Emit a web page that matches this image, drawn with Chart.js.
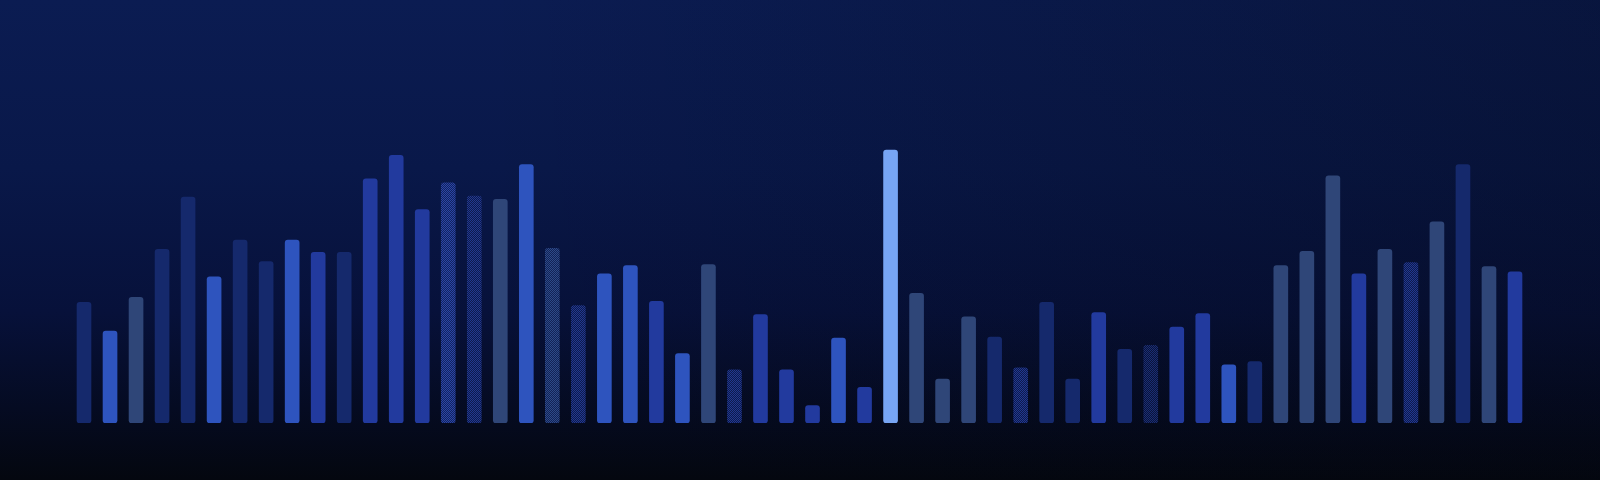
<!DOCTYPE html>
<html>
<head>
<meta charset="utf-8">
<script src="https://cdn.jsdelivr.net/npm/chart.js@4.4.1/dist/chart.umd.min.js"></script>
<style>
    html, body { margin: 0; padding: 0; background: #050a18; }
    #wrap { width: 1600px; height: 480px; }
</style>
</head>
<body>
<div id="wrap"><canvas id="bars"></canvas></div>
<script>
// bar heights (no axis shown)
const values = [118, 90, 123, 170, 221, 143, 179, 158, 179, 167, 167, 239, 262, 209,
    235, 222, 219, 253, 171, 115, 146, 154, 119, 68, 155, 52, 106, 52, 17, 83, 35,
    267, 127, 43, 104, 84, 54, 118, 43, 108, 72, 76, 94, 107, 57, 60, 154, 168, 242,
    146, 170, 157, 197, 253, 153, 148];
const labels = values.map((v, i) => String(i + 1));
// tone group of each bar
const tones = ['navy', 'bright', 'slate', 'navy', 'navy', 'bright', 'navy', 'navy', 'bright',
    'medium', 'navy', 'medium', 'medium', 'medium', 'ditherMed', 'ditherNavy', 'slate', 'bright',
    'ditherSlate', 'ditherNavy', 'bright', 'bright', 'medium', 'bright', 'slate', 'ditherNavy',
    'medium', 'medium', 'medium', 'bright', 'medium', 'light', 'slate', 'slate', 'slate', 'navy',
    'ditherNavy', 'navy', 'navy', 'medium', 'navy', 'ditherDark', 'medium', 'medium', 'bright',
    'navy', 'slate', 'slate', 'slate', 'medium', 'slate', 'ditherNavy', 'slate', 'navy', 'slate',
    'medium'];

function dither(base, dot) {
    const c = document.createElement('canvas');
    c.width = 2; c.height = 2;
    const g = c.getContext('2d');
    g.fillStyle = base;
    g.fillRect(0, 0, 2, 2);
    g.fillStyle = dot;
    g.fillRect(0, 0, 1, 1);
    g.fillRect(1, 1, 1, 1);
    return c;
}

document.addEventListener('DOMContentLoaded', () => {
    const ctx = document.getElementById('bars').getContext('2d');
    const palette = {
        navy: '#15296c',
        bright: '#2e54be',
        medium: '#223a9e',
        slate: '#2f4678',
        light: '#77a5f4',
        ditherMed: ctx.createPattern(dither('#13235f', '#2a45a6'), 'repeat'),
        ditherNavy: ctx.createPattern(dither('#0e1a4c', '#213890'), 'repeat'),
        ditherSlate: ctx.createPattern(dither('#122256', '#2d4a88'), 'repeat'),
        ditherDark: ctx.createPattern(dither('#0a143a', '#1a2d74'), 'repeat')
    };

    // Background gradient
    const backdrop = {
        id: 'backdrop',
        beforeDraw(chart) {
            const c = chart.ctx;
            const w = chart.width, h = chart.height;
            c.save();
            const g = c.createLinearGradient(0, 0, 0, h);
            g.addColorStop(0, '#0b1c52');
            g.addColorStop(0.35, '#091849');
            g.addColorStop(0.65, '#07113a');
            g.addColorStop(0.85, '#050b22');
            g.addColorStop(1, '#04070f');
            c.fillStyle = g;
            c.fillRect(0, 0, w, h);
            const r = c.createLinearGradient(w * 0.3, 0, w, 0);
            r.addColorStop(0, 'rgba(3,6,16,0)');
            r.addColorStop(1, 'rgba(3,6,16,0.3)');
            c.fillStyle = r;
            c.fillRect(0, 0, w, h);
            c.restore();
        }
    };

    new Chart(ctx, {
        type: 'bar',
        data: {
            labels: labels,
            datasets: [{
                data: values,
                backgroundColor: tones.map(t => palette[t]),
                borderWidth: 0,
                borderRadius: 3,
                borderSkipped: false,
                barThickness: 14
            }]
        },
        options: {
            responsive: true,
            maintainAspectRatio: false,
            animation: false,
            layout: { padding: { left: 71, right: 72, top: 0, bottom: 57 } },
            plugins: { legend: { display: false }, tooltip: { enabled: false } },
            scales: {
                x: { display: false, grid: { display: false } },
                y: { display: false, min: 0, max: 414, grid: { display: false } }
            }
        },
        plugins: [backdrop]
    });
});
</script>
</body>
</html>
